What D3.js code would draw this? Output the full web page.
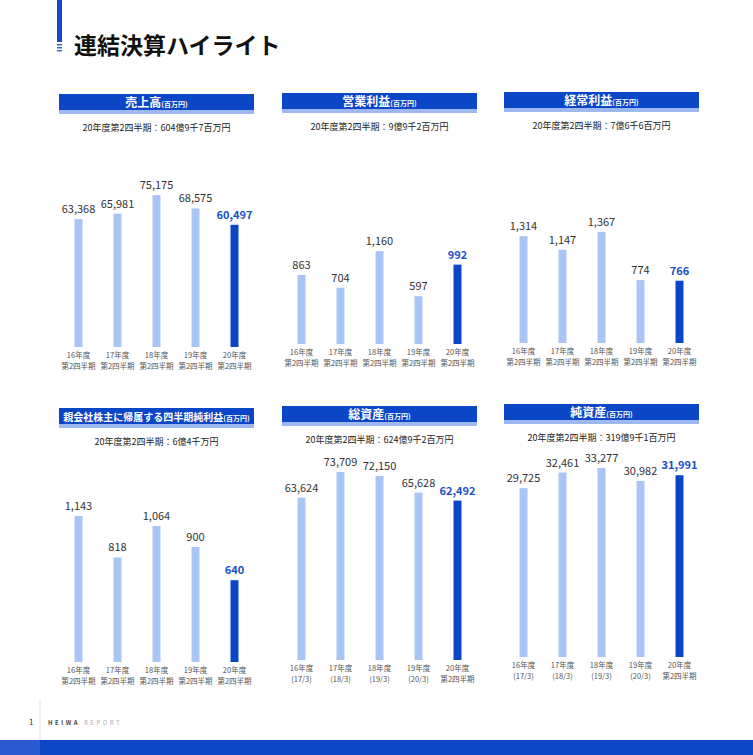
<!DOCTYPE html>
<html>
<head>
<meta charset="utf-8">
<script src="https://cdn.jsdelivr.net/npm/d3@7"></script>
<style>
  body { margin: 0; background: #fff; }
  svg { display: block; font-family: "Noto Sans CJK JP", "Noto Sans", sans-serif; }
</style>
</head>
<body>
<div id="chart"></div>
<script>
// data
const years = ["16年度", "17年度", "18年度", "19年度", "20年度"];
const halfLabels = ["第2四半期", "第2四半期", "第2四半期", "第2四半期", "第2四半期"];
const endLabels = ["(17/3)", "(18/3)", "(19/3)", "(20/3)", "第2四半期"];

const sales = [63368, 65981, 75175, 68575, 60497];
const operatingIncome = [863, 704, 1160, 597, 992];
const ordinaryIncome = [1314, 1147, 1367, 774, 766];
const netIncome = [1143, 818, 1064, 900, 640];
const totalAssets = [63624, 73709, 72150, 65628, 62492];
const netAssets = [29725, 32461, 33277, 30982, 31991];

const titles = ["売上高", "営業利益", "経常利益", "親会社株主に帰属する四半期純利益", "総資産", "純資産"];
const subtitles = [
  "20年度第2四半期：604億9千7百万円",
  "20年度第2四半期：9億9千2百万円",
  "20年度第2四半期：7億6千6百万円",
  "20年度第2四半期：6億4千万円",
  "20年度第2四半期：624億9千2百万円",
  "20年度第2四半期：319億9千1百万円"
];

// layout per panel
const panels = [
  { values: sales, sub: halfLabels, x0: 59, x1: 254, top: 94, base: 347, yMax: 99000, fs: 12 },
  { values: operatingIncome, sub: halfLabels, x0: 282, x1: 477, top: 93, base: 344, yMax: 2500, fs: 12 },
  { values: ordinaryIncome, sub: halfLabels, x0: 504, x1: 699, top: 92, base: 343, yMax: 2460, fs: 12 },
  { values: netIncome, sub: halfLabels, x0: 59, x1: 254, top: 408, base: 662, yMax: 1565, fs: 10 },
  { values: totalAssets, sub: endLabels, x0: 282, x1: 477, top: 406, base: 660, yMax: 78400, fs: 12 },
  { values: netAssets, sub: endLabels, x0: 504, x1: 699, top: 404, base: 657, yMax: 35200, fs: 12 }
];

const W = 753, H = 755;
const dark = "#0b46c6", light = "#a9c5f6";

const svg = d3.select("#chart").append("svg")
  .attr("width", W).attr("height", H);

const defs = svg.append("defs");
const rb = defs.append("linearGradient").attr("id", "rainbow");
rb.selectAll("stop")
  .data([["0%", "#c9b8e6"], ["35%", "#b9dcc0"], ["65%", "#e6d6b0"], ["100%", "#e2b8d8"]])
  .enter().append("stop")
  .attr("offset", d => d[0]).attr("stop-color", d => d[1]);

// page header
svg.append("line")
  .attr("x1", 65).attr("x2", W).attr("y1", 25).attr("y2", 25)
  .attr("stroke", "url(#rainbow)").attr("stroke-width", 1.2);
svg.append("rect").attr("x", 57).attr("y", 0).attr("width", 5).attr("height", 42).attr("fill", "#1849c4");
[44, 47, 50].forEach(y => {
  svg.append("rect").attr("x", 57).attr("y", y).attr("width", 5).attr("height", 1.5).attr("fill", "#3a64cc");
});
svg.append("text")
  .attr("x", 74).attr("y", 54)
  .attr("font-size", 23).attr("font-weight", "bold").attr("fill", "#111")
  .text("連結決算ハイライト");

panels.forEach((p, i) => {
  const g = svg.append("g");
  const x = d3.scalePoint().domain(years).range([p.x0, p.x1]).padding(0.5);
  const y = d3.scaleLinear().domain([0, p.yMax]).range([p.base, p.base - 200]);
  const cx = (p.x0 + p.x1) / 2;

  // header bar
  g.append("rect").attr("x", p.x0).attr("y", p.top).attr("width", p.x1 - p.x0).attr("height", 16).attr("fill", dark);
  g.append("rect").attr("x", p.x0).attr("y", p.top + 16).attr("width", p.x1 - p.x0).attr("height", 4).attr("fill", "#9db9ef");
  const t = g.append("text")
    .attr("x", cx).attr("y", p.top + 12.5)
    .attr("text-anchor", "middle").attr("fill", "#fff").attr("font-weight", "bold")
    .attr("font-size", p.fs);
  t.append("tspan").text(titles[i]);
  t.append("tspan").attr("font-size", 7).text("(百万円)");

  g.append("text")
    .attr("x", cx).attr("y", p.top + 37)
    .attr("text-anchor", "middle").attr("font-size", 9).attr("fill", "#222")
    .text(subtitles[i]);

  // baseline
  g.append("line")
    .attr("x1", p.x0).attr("x2", p.x1).attr("y1", p.base + 0.5).attr("y2", p.base + 0.5)
    .attr("stroke", "url(#rainbow)").attr("stroke-width", 1);

  const rows = years.map((yr, j) => ({ yr, v: p.values[j], sub: p.sub[j], last: j === years.length - 1 }));

  g.selectAll("rect.bar")
    .data(rows)
    .enter().append("rect")
    .attr("class", "bar")
    .attr("x", d => x(d.yr) - 4)
    .attr("y", d => y(d.v))
    .attr("width", 8)
    .attr("height", d => p.base - y(d.v))
    .attr("fill", d => d.last ? dark : light);

  g.selectAll("text.val")
    .data(rows)
    .enter().append("text")
    .attr("class", "val")
    .attr("x", d => x(d.yr))
    .attr("y", d => y(d.v) - 6)
    .attr("text-anchor", "middle")
    .attr("font-size", 11)
    .attr("font-weight", d => d.last ? "bold" : "normal")
    .attr("fill", d => d.last ? "#1a4fc8" : "#333")
    .text(d => d3.format(",")(d.v));

  const xl = g.selectAll("text.xl")
    .data(rows)
    .enter().append("text")
    .attr("class", "xl")
    .attr("text-anchor", "middle")
    .attr("font-size", 7.5)
    .attr("fill", "#555");
  xl.append("tspan").attr("x", d => x(d.yr)).attr("y", p.base + 11).text(d => d.yr);
  xl.append("tspan").attr("x", d => x(d.yr)).attr("y", p.base + 22).text(d => d.sub);
});

// footer
svg.append("line").attr("x1", 40).attr("x2", 40).attr("y1", 700).attr("y2", 740).attr("stroke", "#e4e4ec");
svg.append("text").attr("x", 29).attr("y", 725).attr("font-size", 8).attr("fill", "#333").text("1");
svg.append("text").attr("x", 48).attr("y", 725).attr("font-size", 6).attr("font-weight", "bold")
  .attr("letter-spacing", 2.5).attr("fill", "#444").text("HEIWA")
  .append("tspan").attr("font-weight", "normal").attr("fill", "#aab").attr("dx", 4).text("REPORT");
svg.append("rect").attr("x", 0).attr("y", 740).attr("width", 40).attr("height", 15).attr("fill", "#2b5ad0");
svg.append("rect").attr("x", 40).attr("y", 740).attr("width", W - 40).attr("height", 15).attr("fill", "#0d47c6");
</script>
</body>
</html>
